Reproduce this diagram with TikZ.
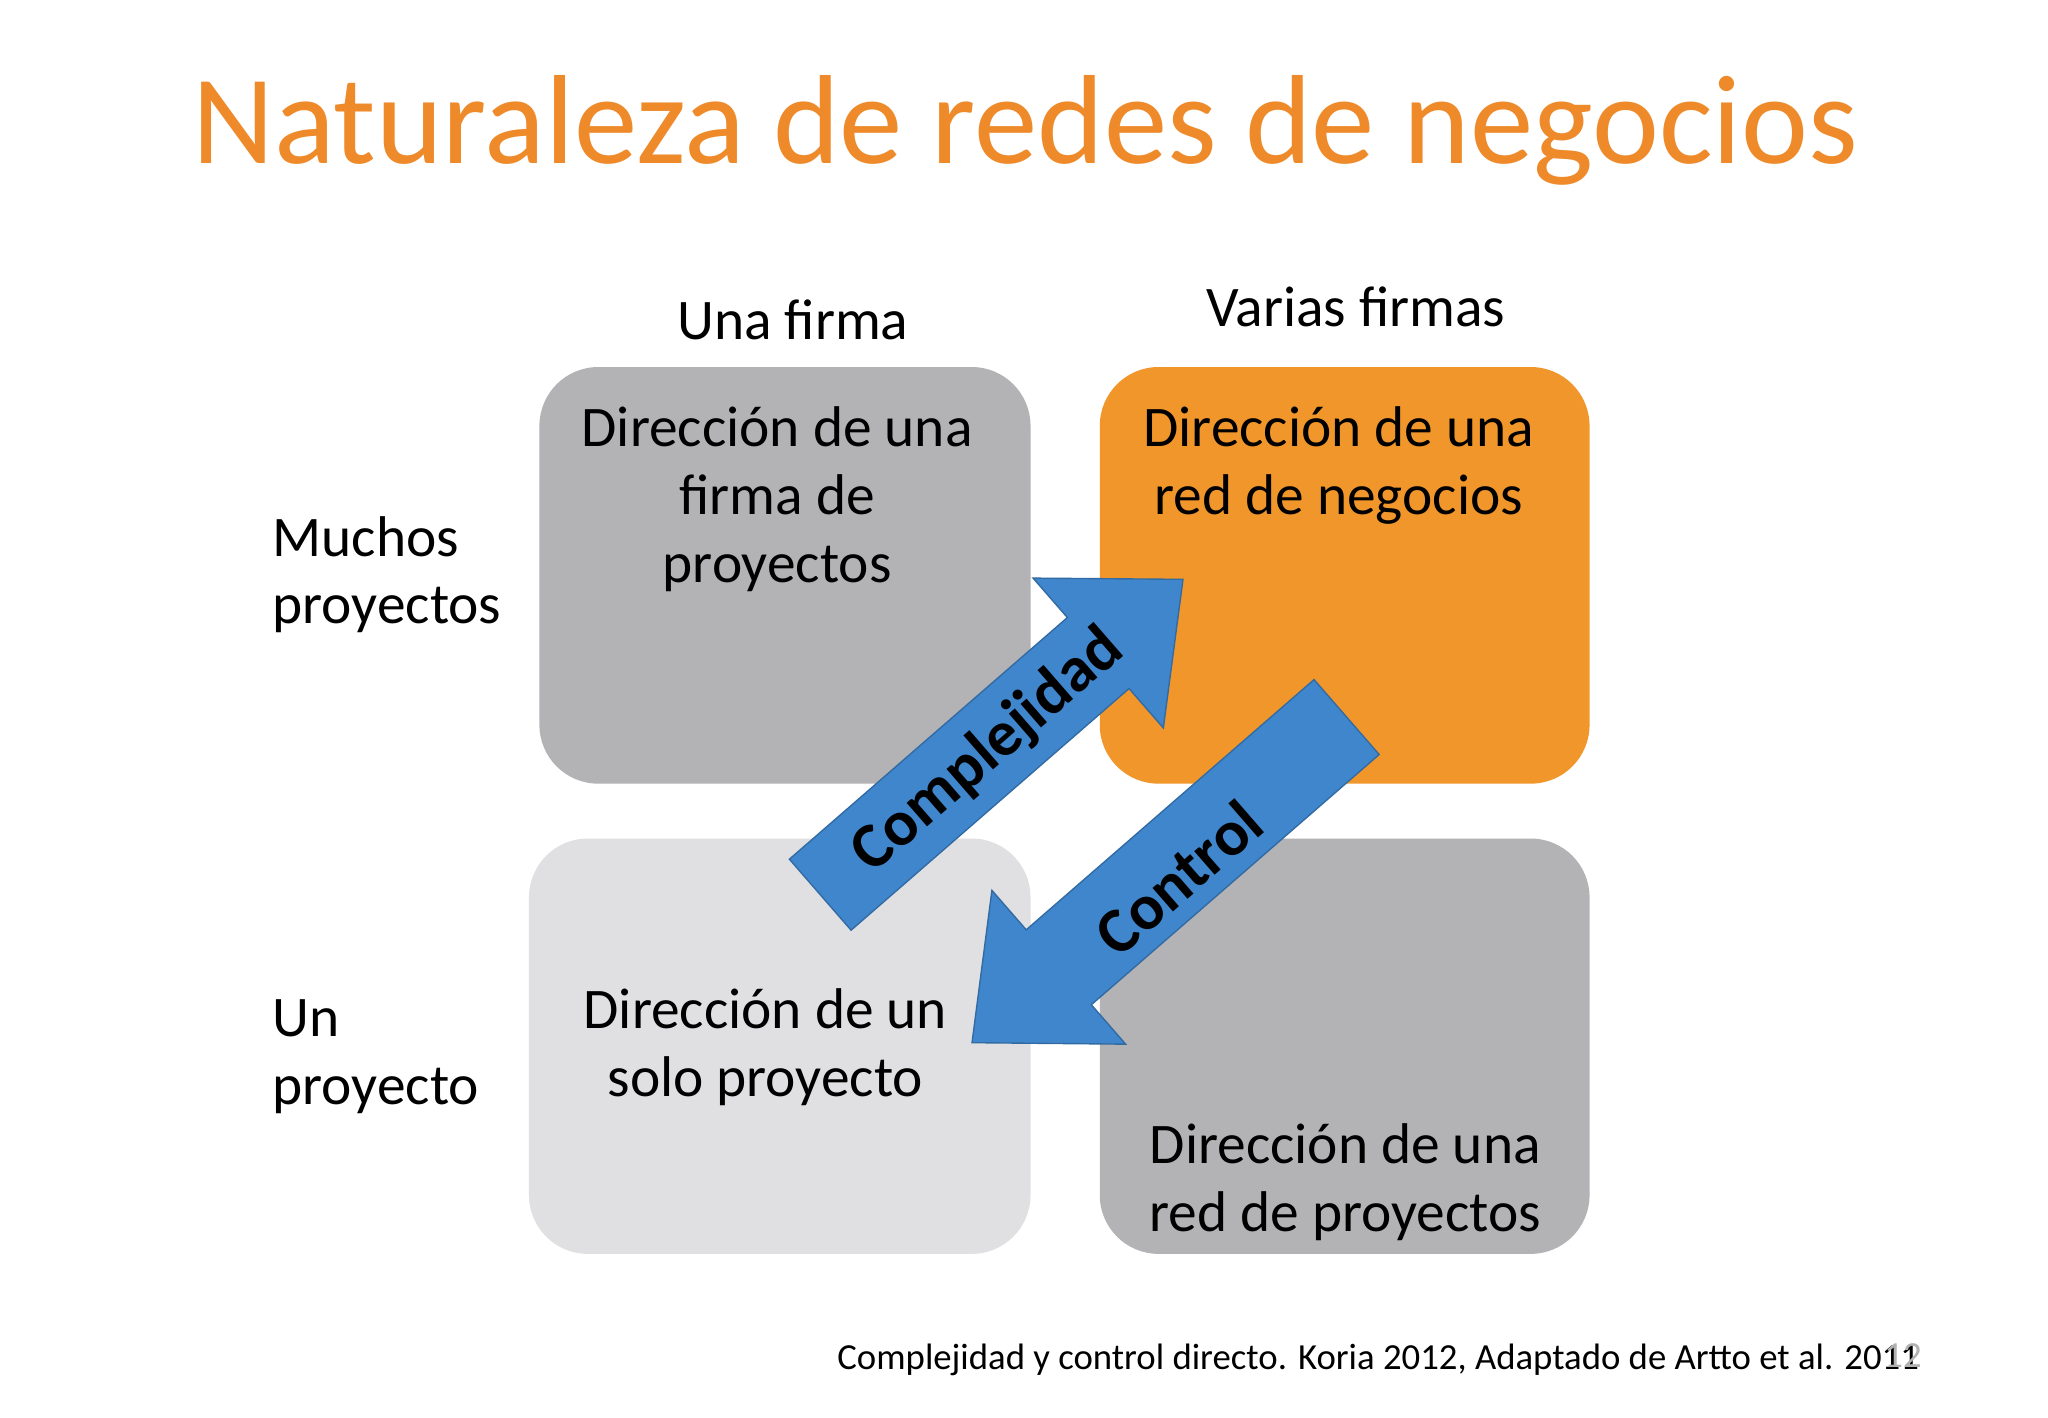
\documentclass[tikz,border=0pt]{standalone}
\usepackage{fontspec}
\setmainfont{Carlito}
\definecolor{ttl}{HTML}{EE8A2A}
\definecolor{dg}{HTML}{B3B2B4}
\definecolor{lg}{HTML}{E0DFE1}
\definecolor{org}{HTML}{F0962A}
\definecolor{blu}{HTML}{3F86CC}
\tikzset{
 box/.style={rounded corners=0.45cm},
 txt/.style={font=\fontsize{12.5}{14.8}\selectfont, align=center, text=black},
 arr/.style={fill=blu, draw=blu!80!black, line width=0.3pt},
 atxt/.style={font=\fontsize{14}{16}\selectfont\bfseries, text=black}
}
\begin{document}
\begin{tikzpicture}[x=0.01cm,y=-0.01cm]
\useasboundingbox[fill=white] (0,0) rectangle (1568,1085);
\node[font=\fontsize{27.6}{30}\selectfont, text=ttl] (title) at (785,100) {Naturaleza de redes de negocios};
\fill[dg,box] (413,281) rectangle (789,600);
\fill[org,box] (842,281) rectangle (1217,600);
\fill[lg,box] (405,642) rectangle (789,960);
\fill[dg,box] (842,642) rectangle (1217,960);
\node[txt] (c1) at (607,245) {Una firma};
\node[txt] (c2) at (1038,235) {Varias firmas};
\node[txt,align=left,anchor=west,inner sep=0pt] (r1) at (208,440) {Muchos\\proyectos};
\node[txt,align=left,anchor=west,inner sep=0pt] (r2) at (208,809) {Un\\proyecto};
\node[txt,anchor=north] (t1) at (595,299) {Dirección de una\\firma de\\proyectos};
\node[txt,anchor=north] (t2) at (1025,299) {Dirección de una\\red de negocios};
\node[txt] (t3) at (586,802) {Dirección de un\\solo proyecto};
\node[txt] (t4) at (1030,905) {Dirección de una\\red de proyectos};
% Complejidad arrow
\begin{scope}[shift={(628,685)},rotate=41]
\draw[arr] (0,-36) -- (282,-36) -- (282,-76) -- (368,0) -- (282,76) -- (282,36) -- (0,36) -- cycle;
\end{scope}
\node[atxt,rotate=41] (a1) at (757,575) {Complejidad};
% Control arrow
\begin{scope}[shift={(1031,549)},rotate=221]
\draw[arr] (0,-38) -- (292,-38) -- (292,-78) -- (380,0) -- (292,78) -- (292,38) -- (0,38) -- cycle;
\end{scope}
\node[atxt,rotate=41] (a2) at (902,672) {Control};
\node[font=\fontsize{8}{9.5}\selectfont, anchor=east, inner sep=0pt] (fn) at (1470,1041) {Complejidad y control directo. Koria 2012, Adaptado de Artto et al. 2011};
\node[font=\fontsize{8}{9.5}\selectfont, text=black!30, anchor=east, inner sep=0pt] (pg) at (1472,1038) {12};
\end{tikzpicture}
\end{document}
